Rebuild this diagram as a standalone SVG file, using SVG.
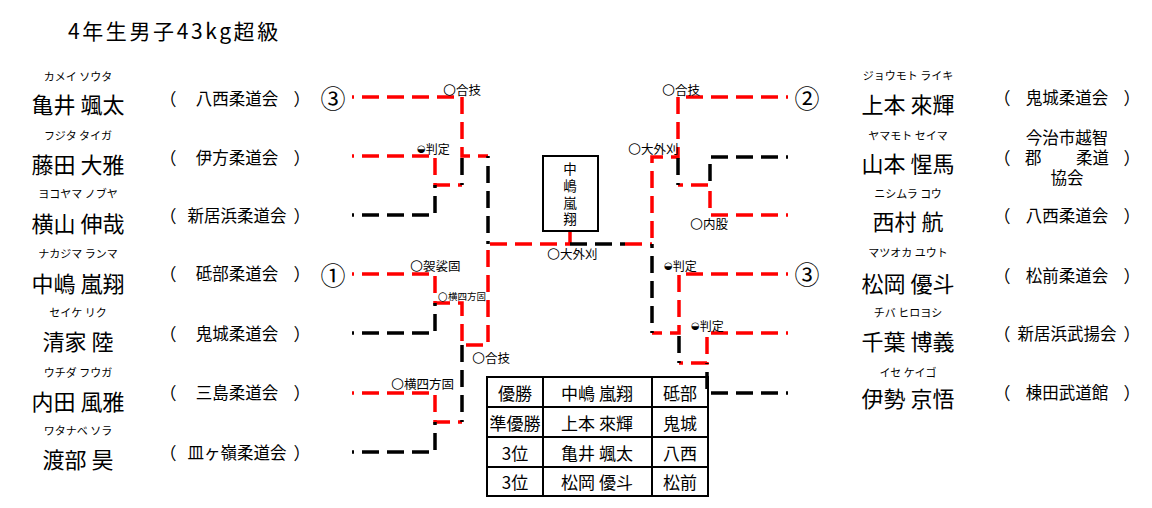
<svg xmlns="http://www.w3.org/2000/svg" width="1152" height="508" viewBox="0 0 1152 508">
<style>
text{font-family:"Noto Sans CJK JP","Noto Sans CJK SC",sans-serif;dominant-baseline:central;fill:#000}
.t{font-size:21px;letter-spacing:2.6px}
.kana{font-size:11px;text-anchor:middle}
.name{font-size:22px;text-anchor:middle}
.club{font-size:16.5px;text-anchor:middle}
.par{font-size:17px;text-anchor:middle}
.num{font-size:25px;text-anchor:middle}
.lbl{font-size:12.5px}
.sm{font-size:9.5px}
.o{font-family:"DejaVu Sans",sans-serif;font-size:15px}
.sm .o{font-size:11.5px}
.sym{font-family:"DejaVu Sans",sans-serif;font-size:10px}
.tb{font-size:17px;text-anchor:middle}
.box{font-size:13.5px;text-anchor:middle}
#connectors path{fill:none;stroke-width:3.5;stroke-dasharray:17 8;stroke-dashoffset:15}
#connectors .r{stroke:#ff0000}
#connectors .k{stroke:#000}
.frame{fill:none;stroke:#000;stroke-width:2}
</style>
<text class="t" x="68" y="30">4年生男子43kg超級</text>

<g id="connectors">
<path class="r" d="M352,97H462V156H488"/>
<path class="r" d="M352,156H435V185H462"/>
<path class="k" d="M462,185V156"/>
<path class="k" d="M352,215H435V185"/>
<path class="k" d="M488,156V244"/>
<path class="r" d="M352,274H435V303H462V345H488V244H570"/>
<path class="k" d="M352,333H435V303"/>
<path class="r" d="M352,393H435V422H462"/>
<path class="k" d="M462,422V345"/>
<path class="k" d="M352,452H435V422"/>
<path class="r" d="M570,231V244" style="stroke-dasharray:none"/>
<path class="k" d="M570,244H625" style="stroke-dashoffset:0"/>
<path class="r" d="M625,244H652" style="stroke-dashoffset:0"/>
<path class="r" d="M788,97H678V157H652V244"/>
<path class="k" d="M788,157H710V185"/>
<path class="r" d="M788,215H710V185H678"/>
<path class="k" d="M678,185V157"/>
<path class="r" d="M788,274H679V333H652"/>
<path class="k" d="M652,333V244"/>
<path class="r" d="M788,333H707V363H679"/>
<path class="k" d="M679,363V333"/>
<path class="k" d="M788,393H707V363"/>
</g>

<g id="labels">
<text class="lbl" x="443" y="89"><tspan class="o">○</tspan>合技</text>
<text class="lbl" x="417" y="148" style="font-size:12px"><tspan class="sym">◒</tspan>判定</text>
<text class="lbl" x="410" y="265"><tspan class="o">○</tspan>袈裟固</text>
<text class="lbl sm" x="438" y="296"><tspan class="o">○</tspan>横四方固</text>
<text class="lbl" x="472" y="357"><tspan class="o">○</tspan>合技</text>
<text class="lbl" x="391" y="383"><tspan class="o">○</tspan>横四方固</text>
<text class="lbl" x="547" y="253"><tspan class="o">○</tspan>大外刈</text>
<text class="lbl" x="628" y="148"><tspan class="o">○</tspan>大外刈</text>
<text class="lbl" x="662" y="89"><tspan class="o">○</tspan>合技</text>
<text class="lbl" x="690" y="223"><tspan class="o">○</tspan>内股</text>
<text class="lbl" x="664" y="265" style="font-size:12px"><tspan class="sym">◒</tspan>判定</text>
<text class="lbl" x="691" y="325" style="font-size:12px"><tspan class="sym">◒</tspan>判定</text>
</g>

<g id="champion-box">
<rect class="frame" x="543" y="156" width="55" height="75"/>
<text class="box" x="570" y="168">中</text>
<text class="box" x="570" y="185">嶋</text>
<text class="box" x="570" y="202">嵐</text>
<text class="box" x="570" y="218">翔</text>
</g>

<g id="p-kamei">
<text class="kana" x="78" y="76">カメイ ソウタ</text>
<text class="name" x="78" y="103">亀井 颯太</text>
<text class="par" x="168" y="98">（</text><text class="club" x="237" y="98">八西柔道会</text><text class="par" x="302" y="98">）</text>
<text class="num" x="333" y="97">③</text>
</g>
<g id="p-fujita">
<text class="kana" x="78" y="135">フジタ タイガ</text>
<text class="name" x="78" y="163">藤田 大雅</text>
<text class="par" x="168" y="157">（</text><text class="club" x="237" y="157">伊方柔道会</text><text class="par" x="302" y="157">）</text>
</g>
<g id="p-yokoyama">
<text class="kana" x="78" y="193">ヨコヤマ ノブヤ</text>
<text class="name" x="78" y="222">横山 伸哉</text>
<text class="par" x="168" y="215">（</text><text class="club" x="237" y="215">新居浜柔道会</text><text class="par" x="302" y="215">）</text>
</g>
<g id="p-nakajima">
<text class="kana" x="78" y="253">ナカジマ ランマ</text>
<text class="name" x="78" y="282">中嶋 嵐翔</text>
<text class="par" x="168" y="273">（</text><text class="club" x="237" y="273">砥部柔道会</text><text class="par" x="302" y="273">）</text>
<text class="num" x="333" y="274">①</text>
</g>
<g id="p-seike">
<text class="kana" x="78" y="312">セイケ リク</text>
<text class="name" x="78" y="340">清家 陸</text>
<text class="par" x="168" y="333">（</text><text class="club" x="237" y="333">鬼城柔道会</text><text class="par" x="302" y="333">）</text>
</g>
<g id="p-uchida">
<text class="kana" x="78" y="372">ウチダ フウガ</text>
<text class="name" x="78" y="400">内田 風雅</text>
<text class="par" x="168" y="392">（</text><text class="club" x="237" y="392">三島柔道会</text><text class="par" x="302" y="392">）</text>
</g>
<g id="p-watanabe">
<text class="kana" x="78" y="430">ワタナベ ソラ</text>
<text class="name" x="78" y="458">渡部 昊</text>
<text class="par" x="168" y="452">（</text><text class="club" x="237" y="452">皿ヶ嶺柔道会</text><text class="par" x="302" y="452">）</text>
</g>

<g id="p-uemoto">
<text class="num" x="807" y="97">②</text>
<text class="kana" x="908" y="75">ジョウモト ライキ</text>
<text class="name" x="908" y="103">上本 來輝</text>
<text class="par" x="1002" y="97">（</text><text class="club" x="1067" y="97">鬼城柔道会</text><text class="par" x="1132" y="97">）</text>
</g>
<g id="p-yamamoto">
<text class="kana" x="908" y="135">ヤマモト セイマ</text>
<text class="name" x="908" y="162">山本 惺馬</text>
<text class="par" x="1002" y="157">（</text>
<text class="club" x="1067" y="137">今治市越智</text>
<text class="club" x="1025" y="157" style="text-anchor:start">郡</text><text class="club" x="1109" y="157" style="text-anchor:end">柔道</text>
<text class="club" x="1067" y="177">協会</text>
<text class="par" x="1132" y="157">）</text>
</g>
<g id="p-nishimura">
<text class="kana" x="908" y="193">ニシムラ コウ</text>
<text class="name" x="908" y="220">西村 航</text>
<text class="par" x="1002" y="215">（</text><text class="club" x="1067" y="215">八西柔道会</text><text class="par" x="1132" y="215">）</text>
</g>
<g id="p-matsuoka">
<text class="num" x="807" y="273">③</text>
<text class="kana" x="908" y="252">マツオカ ユウト</text>
<text class="name" x="908" y="282">松岡 優斗</text>
<text class="par" x="1002" y="275">（</text><text class="club" x="1067" y="275">松前柔道会</text><text class="par" x="1132" y="275">）</text>
</g>
<g id="p-chiba">
<text class="kana" x="908" y="312">チバ ヒロヨシ</text>
<text class="name" x="908" y="340">千葉 博義</text>
<text class="par" x="1002" y="333">（</text><text class="club" x="1067" y="333">新居浜武揚会</text><text class="par" x="1132" y="333">）</text>
</g>
<g id="p-ise">
<text class="kana" x="908" y="372">イセ ケイゴ</text>
<text class="name" x="908" y="397">伊勢 京悟</text>
<text class="par" x="1002" y="392">（</text><text class="club" x="1067" y="392">棟田武道館</text><text class="par" x="1132" y="392">）</text>
</g>

<g id="results">
<rect class="frame" x="487" y="377" width="221" height="119"/>
<path class="frame" d="M487,407H708M487,437H708M487,467H708M543,377V496M652,377V496"/>
<text class="tb" x="515" y="392">優勝</text><text class="tb" x="597" y="392">中嶋 嵐翔</text><text class="tb" x="680" y="392">砥部</text>
<text class="tb" x="515" y="422">準優勝</text><text class="tb" x="597" y="422">上本 來輝</text><text class="tb" x="680" y="422">鬼城</text>
<text class="tb" x="515" y="452">3位</text><text class="tb" x="597" y="452">亀井 颯太</text><text class="tb" x="680" y="452">八西</text>
<text class="tb" x="515" y="481">3位</text><text class="tb" x="597" y="481">松岡 優斗</text><text class="tb" x="680" y="481">松前</text>
</g>
</svg>
